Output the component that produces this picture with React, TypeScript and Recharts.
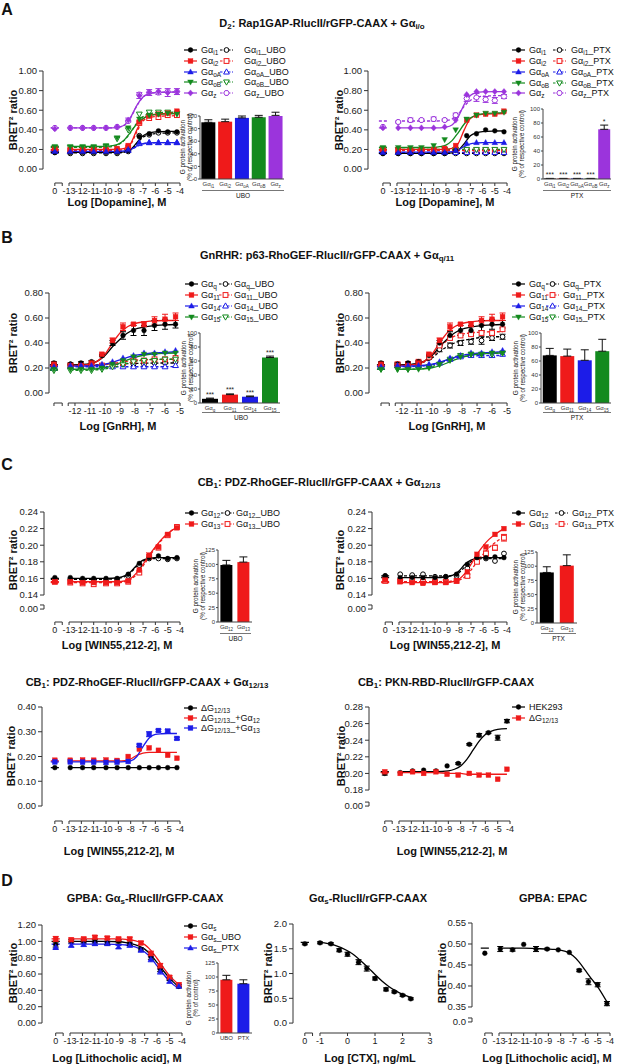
import React from "react";
import {
  ComposedChart,
  Line,
  Scatter,
  XAxis,
  YAxis,
  ReferenceLine,
  ErrorBar,
  BarChart,
  Bar,
  Cell,
  LabelList,
} from "recharts";

const FONT = "'Liberation Sans', Arial, Helvetica, sans-serif";
const K = "#000000";
const R = "#ef1a1a";
const B = "#1c1ce8";
const G = "#138a1e";
const P = "#9b34dc";

// concentrations (log M) of the dilution series
const X_A = [-12.9, -11.9, -11, -10, -9.1, -8.2, -7.3, -6.5, -5.75, -5, -4.25];
const X_B = [-12.3, -11.6, -10.9, -10.2, -9.5, -8.8, -8.1, -7.4, -6.7, -6.0, -5.3];
const X_CTX = [-1, -0.6, -0.3, 0, 0.4, 0.7, 1, 1.4, 1.7, 2, 2.3];
// x where the fitted curves were read
const CX_A = [-13, -12, -11, -10, -9.5, -9, -8.5, -8, -7.5, -7, -6.5, -6, -5, -4.1];
const CX_B = [-12.3, -11.5, -11, -10.5, -10, -9.5, -9, -8.5, -8, -7.5, -7, -6, -5.3];
const CX_C = [-13, -12, -11, -10, -9, -8.5, -8, -7.5, -7, -6.5, -6, -5.5, -5, -4.25];
const CX_CTX = [-1, -0.5, 0, 0.25, 0.5, 0.75, 1, 1.25, 1.5, 1.75, 2, 2.3];

// tick values
const XT_A = [-14.15, -13.55, -13, -12, -11, -10, -9, -8, -7, -6, -5, -4];
const XT_B = [-13.4, -12.85, -12.45, -12, -11, -10, -9, -8, -7, -6, -5];
const XT_CTX = [-1.55, -1.27, -1, 0, 1, 2, 3];
const YT_A = [0, 0.2, 0.4, 0.6, 0.8, 1.0];
const YT_B = [0, 0.2, 0.4, 0.6, 0.8];
const YT_CT = [0.1231, 0.128, 0.14, 0.16, 0.18, 0.2, 0.22, 0.24];
const YT_CBL = [0, 0.1, 0.2, 0.3, 0.4];
const YT_CBR = [0.1607, 0.1655, 0.18, 0.2, 0.22, 0.24, 0.26, 0.28];
const YT_D1 = [0, 0.2, 0.4, 0.6, 0.8, 1.0, 1.2];
const YT_D2 = [0, 0.5, 1.0, 1.5, 2.0];
const YT_D3 = [0.3143, 0.3238, 0.35, 0.4, 0.45, 0.5, 0.55];

// A left (vehicle first)
const AL_I1 = [0.17, 0.17, 0.17, 0.17, 0.17, 0.17, 0.19, 0.33, 0.36, 0.39, 0.38, 0.38];
const AL_I1U = [0.17, 0.16, 0.16, 0.16, 0.16, 0.16, 0.18, 0.34, 0.35, 0.37, 0.37, 0.37];
const AL_I2 = [0.21, 0.2, 0.2, 0.2, 0.2, 0.21, 0.24, 0.48, 0.54, 0.56, 0.57, 0.59];
const AL_I2U = [0.19, 0.19, 0.19, 0.19, 0.19, 0.19, 0.22, 0.47, 0.52, 0.53, 0.55, 0.55];
const AL_OA = [0.18, 0.18, 0.18, 0.18, 0.18, 0.18, 0.2, 0.27, 0.27, 0.27, 0.27, 0.27];
const AL_OAU = [0.18, 0.18, 0.18, 0.18, 0.18, 0.18, 0.19, 0.26, 0.27, 0.27, 0.27, 0.27];
const AL_OB = [0.23, 0.23, 0.23, 0.23, 0.24, 0.32, 0.42, 0.51, 0.55, 0.56, 0.57, 0.56];
const AL_OBU = [0.22, 0.22, 0.22, 0.22, 0.23, 0.31, 0.4, 0.56, 0.58, 0.58, 0.58, 0.57];
const AL_Z = [0.41, 0.42, 0.42, 0.42, 0.42, 0.43, 0.5, 0.75, 0.78, 0.79, 0.78, 0.79];
const AL_Z_E = [0, 0, 0, 0, 0, 0, 0.02, 0.03, 0.03, 0.03, 0.04, 0.03];
const AL_ZU = [0.42, 0.42, 0.42, 0.42, 0.42, 0.43, 0.49, 0.76, 0.78, 0.78, 0.79, 0.79];
const AL_I1_F = [0.17, 0.17, 0.17, 0.17, 0.17, 0.171, 0.176, 0.2, 0.27, 0.34, 0.37, 0.38, 0.385, 0.385];
const AL_I1U_F = [0.165, 0.165, 0.165, 0.165, 0.165, 0.166, 0.172, 0.195, 0.26, 0.325, 0.352, 0.362, 0.368, 0.37];
const AL_I2_F = [0.2, 0.2, 0.2, 0.2, 0.2, 0.202, 0.21, 0.26, 0.4, 0.51, 0.548, 0.56, 0.568, 0.57];
const AL_I2U_F = [0.19, 0.19, 0.19, 0.19, 0.19, 0.192, 0.2, 0.25, 0.38, 0.49, 0.525, 0.535, 0.542, 0.545];
const AL_OA_F = [0.18, 0.18, 0.18, 0.18, 0.18, 0.181, 0.185, 0.2, 0.235, 0.26, 0.267, 0.27, 0.27, 0.27];
const AL_OAU_F = [0.178, 0.178, 0.178, 0.178, 0.178, 0.179, 0.183, 0.197, 0.23, 0.256, 0.265, 0.268, 0.27, 0.27];
const AL_OB_F = [0.23, 0.23, 0.23, 0.232, 0.238, 0.255, 0.3, 0.38, 0.46, 0.515, 0.543, 0.555, 0.563, 0.565];
const AL_OBU_F = [0.222, 0.222, 0.222, 0.224, 0.23, 0.25, 0.295, 0.375, 0.47, 0.535, 0.563, 0.573, 0.578, 0.58];
const AL_Z_F = [0.42, 0.42, 0.42, 0.42, 0.421, 0.427, 0.45, 0.53, 0.65, 0.735, 0.77, 0.78, 0.785, 0.786];
const AL_ZU_F = [0.42, 0.42, 0.42, 0.42, 0.421, 0.426, 0.448, 0.525, 0.645, 0.735, 0.77, 0.78, 0.785, 0.786];

// A right (PTX)
const AR_I1 = [0.16, 0.16, 0.16, 0.16, 0.16, 0.16, 0.19, 0.34, 0.36, 0.4, 0.39, 0.38];
const AR_I1P = [0.16, 0.16, 0.16, 0.16, 0.16, 0.16, 0.16, 0.16, 0.16, 0.16, 0.16, 0.16];
const AR_I2 = [0.2, 0.2, 0.2, 0.2, 0.2, 0.21, 0.24, 0.5, 0.55, 0.56, 0.56, 0.59];
const AR_I2P = [0.2, 0.19, 0.19, 0.19, 0.19, 0.19, 0.19, 0.19, 0.19, 0.19, 0.19, 0.19];
const AR_OA = [0.17, 0.17, 0.17, 0.17, 0.17, 0.17, 0.19, 0.26, 0.27, 0.27, 0.27, 0.27];
const AR_OAP = [0.17, 0.17, 0.17, 0.17, 0.17, 0.17, 0.17, 0.17, 0.17, 0.17, 0.17, 0.17];
const AR_OB = [0.22, 0.22, 0.22, 0.22, 0.24, 0.3, 0.4, 0.51, 0.55, 0.57, 0.57, 0.58];
const AR_OBP = [0.21, 0.2, 0.2, 0.2, 0.2, 0.2, 0.2, 0.2, 0.2, 0.2, 0.2, 0.2];
const AR_Z = [0.42, 0.42, 0.42, 0.42, 0.42, 0.43, 0.5, 0.76, 0.79, 0.79, 0.79, 0.79];
const AR_ZP = [0.43, 0.48, 0.5, 0.5, 0.51, 0.5, 0.55, 0.72, 0.73, 0.71, 0.7, 0.74];
const AR_ZP_E = [0, 0.01, 0.02, 0.01, 0.02, 0.01, 0.02, 0.03, 0.04, 0.03, 0.03, 0.02];
const AR_I1_F = [0.16, 0.16, 0.16, 0.16, 0.16, 0.161, 0.166, 0.19, 0.26, 0.34, 0.37, 0.382, 0.388, 0.39];
const AR_I1P_F = [0.16, 0.16, 0.16, 0.16, 0.16, 0.16, 0.16, 0.16, 0.16, 0.16, 0.16, 0.16, 0.16, 0.16];
const AR_I2_F = [0.2, 0.2, 0.2, 0.2, 0.2, 0.202, 0.21, 0.26, 0.4, 0.515, 0.548, 0.558, 0.564, 0.566];
const AR_I2P_F = [0.19, 0.19, 0.19, 0.19, 0.19, 0.19, 0.19, 0.19, 0.19, 0.19, 0.19, 0.19, 0.19, 0.19];
const AR_OA_F = [0.172, 0.172, 0.172, 0.172, 0.172, 0.173, 0.177, 0.195, 0.23, 0.257, 0.266, 0.269, 0.27, 0.27];
const AR_OAP_F = [0.17, 0.17, 0.17, 0.17, 0.17, 0.17, 0.17, 0.17, 0.17, 0.17, 0.17, 0.17, 0.17, 0.17];
const AR_OB_F = [0.22, 0.22, 0.22, 0.222, 0.228, 0.245, 0.29, 0.37, 0.46, 0.52, 0.55, 0.563, 0.572, 0.575];
const AR_OBP_F = [0.2, 0.2, 0.2, 0.2, 0.2, 0.2, 0.2, 0.2, 0.2, 0.2, 0.2, 0.2, 0.2, 0.2];
const AR_Z_F = [0.42, 0.42, 0.42, 0.42, 0.421, 0.427, 0.45, 0.53, 0.66, 0.75, 0.78, 0.788, 0.79, 0.79];
const AR_ZP_F = [0.49, 0.49, 0.49, 0.49, 0.491, 0.495, 0.51, 0.56, 0.64, 0.7, 0.73, 0.742, 0.748, 0.75];

// B (GnRH)
const B_Q = [0.24, 0.23, 0.24, 0.25, 0.3, 0.4, 0.46, 0.5, 0.5, 0.54, 0.55, 0.55];
const B_Q_E = [0.01, 0.01, 0.01, 0.01, 0.01, 0.02, 0.03, 0.04, 0.04, 0.04, 0.04, 0.03];
const B_11 = [0.23, 0.22, 0.22, 0.24, 0.31, 0.42, 0.53, 0.55, 0.55, 0.58, 0.59, 0.61];
const B_11_E = [0.01, 0.01, 0.01, 0.01, 0.01, 0.02, 0.03, 0.01, 0.02, 0.03, 0.04, 0.03];
const B_14 = [0.21, 0.22, 0.22, 0.22, 0.23, 0.25, 0.28, 0.3, 0.32, 0.32, 0.33, 0.34];
const B_15 = [0.19, 0.19, 0.19, 0.19, 0.2, 0.23, 0.26, 0.29, 0.31, 0.31, 0.32, 0.32];
const B_QU = [0.23, 0.23, 0.22, 0.22, 0.22, 0.23, 0.23, 0.23, 0.23, 0.24, 0.24, 0.25];
const B_11U = [0.22, 0.22, 0.22, 0.22, 0.22, 0.23, 0.24, 0.26, 0.26, 0.27, 0.27, 0.28];
const B_14U = [0.2, 0.21, 0.21, 0.21, 0.21, 0.21, 0.21, 0.21, 0.21, 0.21, 0.21, 0.22];
const B_15U = [0.18, 0.18, 0.18, 0.18, 0.19, 0.21, 0.23, 0.25, 0.26, 0.26, 0.27, 0.27];
const B_QP = [0.23, 0.23, 0.23, 0.24, 0.28, 0.35, 0.38, 0.4, 0.41, 0.42, 0.44, 0.45];
const B_QP_E = [0.01, 0.01, 0.01, 0.01, 0.01, 0.02, 0.02, 0.02, 0.02, 0.03, 0.02, 0.02];
const B_11P = [0.22, 0.23, 0.23, 0.25, 0.29, 0.38, 0.44, 0.46, 0.47, 0.48, 0.48, 0.51];
const B_14P = [0.21, 0.22, 0.22, 0.22, 0.22, 0.24, 0.27, 0.29, 0.3, 0.3, 0.3, 0.31];
const B_15P = [0.19, 0.19, 0.19, 0.2, 0.21, 0.23, 0.27, 0.3, 0.31, 0.31, 0.31, 0.32];
const B_Q_F = [0.225, 0.228, 0.235, 0.255, 0.3, 0.37, 0.43, 0.48, 0.51, 0.525, 0.535, 0.545, 0.548];
const B_11_F = [0.22, 0.223, 0.23, 0.255, 0.31, 0.4, 0.48, 0.53, 0.555, 0.568, 0.575, 0.58, 0.58];
const B_14_F = [0.215, 0.216, 0.218, 0.222, 0.23, 0.245, 0.265, 0.285, 0.3, 0.31, 0.318, 0.325, 0.33];
const B_15_F = [0.19, 0.19, 0.191, 0.194, 0.202, 0.218, 0.24, 0.265, 0.285, 0.3, 0.31, 0.318, 0.32];
const B_QU_F = [0.225, 0.225, 0.225, 0.226, 0.228, 0.23, 0.232, 0.235, 0.237, 0.238, 0.239, 0.24, 0.24];
const B_11U_F = [0.22, 0.22, 0.221, 0.223, 0.228, 0.236, 0.245, 0.255, 0.262, 0.266, 0.268, 0.27, 0.27];
const B_14U_F = [0.21, 0.21, 0.21, 0.21, 0.21, 0.21, 0.21, 0.21, 0.21, 0.21, 0.21, 0.21, 0.212];
const B_15U_F = [0.182, 0.182, 0.183, 0.186, 0.192, 0.204, 0.22, 0.238, 0.252, 0.262, 0.267, 0.27, 0.27];
const B_QP_F = [0.225, 0.228, 0.235, 0.25, 0.28, 0.33, 0.37, 0.4, 0.42, 0.43, 0.44, 0.45, 0.45];
const B_11P_F = [0.22, 0.224, 0.232, 0.25, 0.29, 0.36, 0.42, 0.455, 0.47, 0.48, 0.485, 0.49, 0.49];
const B_14P_F = [0.21, 0.211, 0.213, 0.217, 0.225, 0.24, 0.26, 0.28, 0.29, 0.295, 0.298, 0.3, 0.3];
const B_15P_F = [0.19, 0.19, 0.192, 0.197, 0.21, 0.235, 0.265, 0.29, 0.305, 0.31, 0.315, 0.32, 0.32];

// C top (WIN55,212-2)
const CL_12 = [0.161, 0.161, 0.16, 0.16, 0.16, 0.16, 0.165, 0.178, 0.185, 0.187, 0.184, 0.185];
const CL_12U = [0.159, 0.159, 0.158, 0.158, 0.158, 0.159, 0.163, 0.176, 0.184, 0.184, 0.183, 0.184];
const CL_13 = [0.156, 0.156, 0.155, 0.155, 0.155, 0.155, 0.157, 0.17, 0.188, 0.198, 0.213, 0.221];
const CL_13U = [0.156, 0.155, 0.154, 0.153, 0.154, 0.154, 0.156, 0.167, 0.186, 0.197, 0.212, 0.222];
const CL_12_F = [0.16, 0.16, 0.16, 0.16, 0.161, 0.163, 0.168, 0.176, 0.182, 0.184, 0.185, 0.185, 0.185, 0.185];
const CL_12U_F = [0.159, 0.159, 0.159, 0.159, 0.16, 0.162, 0.167, 0.175, 0.181, 0.183, 0.184, 0.184, 0.184, 0.184];
const CL_13_F = [0.156, 0.156, 0.156, 0.156, 0.156, 0.157, 0.16, 0.167, 0.177, 0.188, 0.198, 0.207, 0.214, 0.222];
const CL_13U_F = [0.155, 0.155, 0.155, 0.155, 0.155, 0.156, 0.159, 0.165, 0.175, 0.186, 0.197, 0.206, 0.214, 0.222];
const CR_12 = [0.163, 0.161, 0.161, 0.161, 0.161, 0.162, 0.165, 0.177, 0.185, 0.185, 0.186, 0.185];
const CR_12P = [0.163, 0.165, 0.164, 0.165, 0.162, 0.162, 0.163, 0.172, 0.184, 0.184, 0.181, 0.19];
const CR_13 = [0.158, 0.156, 0.155, 0.154, 0.155, 0.155, 0.157, 0.168, 0.189, 0.198, 0.213, 0.22];
const CR_13P = [0.157, 0.157, 0.157, 0.156, 0.156, 0.156, 0.157, 0.163, 0.18, 0.19, 0.197, 0.209];
const CR_13P_E = [0, 0, 0, 0, 0, 0, 0, 0.002, 0.002, 0.003, 0.003, 0.004];
const CR_12_F = [0.161, 0.161, 0.161, 0.161, 0.162, 0.164, 0.169, 0.177, 0.182, 0.184, 0.185, 0.185, 0.185, 0.185];
const CR_12P_F = [0.163, 0.163, 0.163, 0.163, 0.163, 0.164, 0.167, 0.174, 0.18, 0.183, 0.184, 0.184, 0.184, 0.184];
const CR_13_F = [0.155, 0.155, 0.155, 0.155, 0.155, 0.156, 0.159, 0.166, 0.177, 0.189, 0.199, 0.207, 0.213, 0.22];
const CR_13P_F = [0.156, 0.156, 0.156, 0.156, 0.156, 0.157, 0.158, 0.162, 0.17, 0.18, 0.189, 0.197, 0.203, 0.21];

// C bottom
const CB_D = [0.155, 0.155, 0.155, 0.155, 0.155, 0.155, 0.155, 0.155, 0.155, 0.155, 0.155, 0.155];
const CB_D12 = [0.185, 0.185, 0.186, 0.185, 0.186, 0.184, 0.2, 0.23, 0.235, 0.225, 0.205, 0.193];
const CB_D13 = [0.178, 0.178, 0.177, 0.177, 0.176, 0.177, 0.18, 0.245, 0.29, 0.305, 0.303, 0.273];
const CB_D13_E = [0, 0, 0, 0, 0, 0, 0, 0.005, 0.01, 0.005, 0.005, 0.005];
const CB_D_F = [0.155, 0.155, 0.155, 0.155, 0.155, 0.155, 0.155, 0.155, 0.155, 0.155, 0.155, 0.155, 0.155, 0.155];
const CB_D12_F = [0.182, 0.182, 0.182, 0.182, 0.182, 0.183, 0.19, 0.205, 0.214, 0.217, 0.217, 0.217, 0.217, 0.217];
const CB_D13_F = [0.178, 0.178, 0.178, 0.178, 0.178, 0.179, 0.182, 0.2, 0.24, 0.275, 0.289, 0.292, 0.293, 0.293];
const CP_HEK = [0.2, 0.201, 0.203, 0.204, 0.203, 0.209, 0.212, 0.235, 0.246, 0.249, 0.243, 0.263];
const CP_HEK_E = [0.002, 0, 0, 0, 0, 0, 0.001, 0.001, 0.002, 0.001, 0.003, 0.002];
const CP_D = [0.202, 0.2, 0.202, 0.2, 0.202, 0.199, 0.198, 0.2, 0.198, 0.198, 0.193, 0.205];
const CP_HEK_F = [0.202, 0.202, 0.202, 0.202, 0.203, 0.205, 0.209, 0.217, 0.228, 0.239, 0.247, 0.251, 0.253, 0.254];
const CP_D_F = [0.201, 0.201, 0.201, 0.201, 0.2, 0.2, 0.2, 0.199, 0.199, 0.199, 0.199, 0.199, 0.199, 0.199];

// D
const D1_S = [0.96, 1.0, 1.0, 1.0, 0.98, 1.0, 0.97, 0.9, 0.81, 0.66, 0.54, 0.45];
const D1_U = [1.03, 1.02, 1.03, 1.05, 1.04, 1.03, 1.03, 0.98, 0.85, 0.7, 0.56, 0.47];
const D1_P = [0.93, 0.95, 0.96, 0.97, 0.97, 0.93, 0.95, 0.89, 0.78, 0.63, 0.51, 0.45];
const D1_E = [0.03, 0.02, 0.02, 0.02, 0.02, 0.02, 0.02, 0.02, 0.03, 0.03, 0.02, 0.02];
const D1_S_F = [1.0, 1.0, 1.0, 1.0, 0.995, 0.985, 0.97, 0.945, 0.905, 0.835, 0.74, 0.64, 0.55, 0.44];
const D1_U_F = [1.03, 1.03, 1.03, 1.03, 1.03, 1.025, 1.015, 0.995, 0.96, 0.89, 0.79, 0.68, 0.58, 0.47];
const D1_P_F = [0.965, 0.965, 0.965, 0.965, 0.96, 0.955, 0.94, 0.915, 0.87, 0.8, 0.7, 0.6, 0.51, 0.42];
const D2_Y = [1.6, 1.62, 1.6, 1.47, 1.39, 1.23, 1.1, 0.9, 0.68, 0.63, 0.56, 0.49];
const D2_E = [0.02, 0.02, 0.02, 0.03, 0.04, 0.05, 0.05, 0.03, 0.03, 0.02, 0.02, 0.02];
const D2_F = [1.63, 1.58, 1.46, 1.37, 1.25, 1.12, 0.98, 0.85, 0.74, 0.65, 0.58, 0.52];
const D3_Y = [0.478, 0.488, 0.486, 0.499, 0.488, 0.488, 0.486, 0.48, 0.437, 0.41, 0.403, 0.358];
const D3_E = [0, 0.006, 0.003, 0, 0.006, 0.002, 0, 0, 0.003, 0.007, 0.005, 0.005];
const D3_F = [0.49, 0.49, 0.49, 0.489, 0.488, 0.487, 0.485, 0.481, 0.472, 0.457, 0.437, 0.417, 0.398, 0.362];

// bar insets
const BAR_A_NAMES = ["Gα|i1", "Gα|i2", "Gα|oA", "Gα|oB", "Gα|z"];
const BAR_A_UBO = [90, 91, 97, 98, 101];
const BAR_A_UBO_E = [4, 4, 3, 3, 5];
const BAR_A_PTX = [0.8, 0.8, 0.8, 0.8, 71];
const BAR_A_PTX_E = [0, 0, 0, 0, 6];
const BAR_A_PTX_ST = ["***", "***", "***", "***", "*"];
const BAR_B_NAMES = ["Gα|q", "Gα|11", "Gα|14", "Gα|15"];
const BAR_B_UBO = [6, 12, 9, 65];
const BAR_B_UBO_E = [1, 1, 1, 2];
const BAR_B_UBO_ST = ["***", "***", "***", "***"];
const BAR_B_PTX = [68, 67, 61, 74];
const BAR_B_PTX_E = [10, 10, 15, 17];
const BAR_C_NAMES = ["Gα|12", "Gα|13"];
const BAR_C_UBO = [99, 104];
const BAR_C_UBO_E = [8, 9];
const BAR_C_PTX = [89, 101];
const BAR_C_PTX_E = [10, 19];
const BAR_D_NAMES = ["UBO", "PTX"];
const BAR_D = [95, 88];
const BAR_D_E = [8, 7];
const YT_BAR100 = [0, 20, 40, 60, 80, 100];
const YT_BAR125 = [0, 25, 50, 75, 100, 125];

type Mk = "circle" | "square" | "tri" | "tridown" | "diamond" | "hex";
type Ser = {
  lab: React.ReactNode;
  c: string;
  m: Mk;
  open?: boolean;
  dash?: boolean;
  y: number[];
  e?: number[];
  fit: number[];
};

const Sub = ({ children }: { children: React.ReactNode }) => (
  <span style={{ fontSize: "0.72em", verticalAlign: "-0.28em", lineHeight: 0 }}>{children}</span>
);
const ga = (s: string, t = "") => (
  <>
    Gα<Sub>{s}</Sub>
    {t}
  </>
);
const dg = (t: React.ReactNode = null) => (
  <>
    ΔG<Sub>12/13</Sub>
    {t}
  </>
);

function Marker({ cx, cy, s }: { cx: number; cy: number; s: Ser }) {
  if (cx == null || cy == null) return null;
  const r = 2.4;
  const f = s.open ? "#fff" : s.c;
  const sw = s.open ? 1 : 0.4;
  const common = { fill: f, stroke: s.c, strokeWidth: sw };
  switch (s.m) {
    case "square":
      return <rect x={cx - r} y={cy - r} width={2 * r} height={2 * r} {...common} />;
    case "tri":
      return <polygon points={`${cx},${cy - r * 1.3} ${cx + r * 1.2},${cy + r * 0.85} ${cx - r * 1.2},${cy + r * 0.85}`} {...common} />;
    case "tridown":
      return <polygon points={`${cx},${cy + r * 1.3} ${cx + r * 1.2},${cy - r * 0.85} ${cx - r * 1.2},${cy - r * 0.85}`} {...common} />;
    case "diamond":
      return <polygon points={`${cx},${cy - r * 1.3} ${cx + r * 1.1},${cy} ${cx},${cy + r * 1.3} ${cx - r * 1.1},${cy}`} {...common} />;
    case "hex": {
      const pts = [0, 1, 2, 3, 4, 5]
        .map((k) => {
          const a = (Math.PI / 3) * k;
          return `${cx + r * 1.15 * Math.cos(a)},${cy + r * 1.15 * Math.sin(a)}`;
        })
        .join(" ");
      return <polygon points={pts} {...common} />;
    }
    default:
      return <circle cx={cx} cy={cy} r={r} {...common} />;
  }
}

type DoseProps = {
  px: number;
  py: number;
  w: number;
  h: number;
  xd: [number, number];
  yd: [number, number];
  xv: number;
  dw: number;
  xs: number[];
  cx: number[];
  xTicks: number[];
  yTicks: number[];
  dec: number;
  ySpecial?: Record<string, string>;
  noZero?: boolean;
  xSegs: [number, number][];
  ySegs: [number, number][];
  series: Ser[];
};

const YW = 34;
const MT = 6;
const MR = 6;
const XH = 22;

function Dose(p: DoseProps) {
  const fmtX = (v: number) => (v === p.xv ? (p.noZero ? "" : "0") : Number.isInteger(v) ? String(v) : "");
  const fmtY = (v: number) => {
    const k = String(v);
    if (p.ySpecial && p.ySpecial[k] !== undefined) return p.ySpecial[k];
    return v.toFixed(p.dec);
  };
  const pts = (s: Ser) => [p.xv, ...p.xs].map((x, i) => ({ x, y: s.y[i], e: s.e ? s.e[i] : 0 }));
  const fit = (s: Ser) => [
    { x: p.xv - p.dw, y: s.fit[0] },
    { x: p.xv + p.dw, y: s.fit[0] },
    { x: (p.xv + p.cx[0]) / 2, y: null },
    ...p.cx.map((x, i) => ({ x, y: s.fit[i] })),
  ];
  const tickStyle = { fontSize: 9, fill: "#1a1a1a", fontFamily: FONT };
  return (
    <div style={{ position: "absolute", left: p.px - YW, top: p.py - MT }}>
      <ComposedChart
        width={YW + p.w + MR}
        height={MT + p.h + XH}
        margin={{ top: MT, right: MR, bottom: 0, left: 0 }}
      >
        <XAxis
          type="number"
          dataKey="x"
          domain={p.xd}
          allowDataOverflow
          ticks={p.xTicks}
          interval={0}
          tickFormatter={fmtX}
          axisLine={false}
          tickSize={3}
          tickLine={{ stroke: "#333" }}
          tick={tickStyle}
          height={XH}
        />
        <YAxis
          type="number"
          dataKey="y"
          domain={p.yd}
          allowDataOverflow
          ticks={p.yTicks}
          interval={0}
          tickFormatter={fmtY}
          axisLine={false}
          tickSize={4}
          tickLine={{ stroke: "#333" }}
          tick={{ ...tickStyle, fontSize: 9.5 }}
          width={YW}
        />
        {p.xSegs.map(([a, b], i) => (
          <ReferenceLine
            key={"xs" + i}
            segment={[
              { x: a, y: p.yd[0] },
              { x: b, y: p.yd[0] },
            ]}
            stroke="#333"
            ifOverflow="visible"
          />
        ))}
        {p.ySegs.map(([a, b], i) => (
          <ReferenceLine
            key={"ys" + i}
            segment={[
              { x: p.xd[0], y: a },
              { x: p.xd[0], y: b },
            ]}
            stroke="#333"
            ifOverflow="visible"
          />
        ))}
        {p.series.map((s, i) => (
          <Line
            key={"l" + i}
            data={fit(s)}
            dataKey="y"
            type="monotone"
            stroke={s.c}
            strokeWidth={1.3}
            strokeDasharray={s.dash ? "3 2" : undefined}
            dot={false}
            activeDot={false}
            connectNulls={false}
            isAnimationActive={false}
          />
        ))}
        {p.series.map((s, i) => (
          <Scatter
            key={"s" + i}
            data={pts(s)}
            shape={(q: any) => <Marker cx={q.cx} cy={q.cy} s={s} />}
            isAnimationActive={false}
          >
            {s.e ? <ErrorBar dataKey="e" direction="y" width={3} stroke={s.c} strokeWidth={1} /> : null}
          </Scatter>
        ))}
      </ComposedChart>
    </div>
  );
}

function Leg({ sx, tx, ry, cols }: { sx: number[]; tx: number[]; ry: number[]; cols: Ser[][] }) {
  return (
    <>
      {cols.map((col, ci) =>
        col.map((s, ri) => (
          <React.Fragment key={ci + "-" + ri}>
            <svg style={{ position: "absolute", left: sx[ci], top: ry[ri] - 4 }} width={13} height={8}>
              <line
                x1={0}
                y1={4}
                x2={13}
                y2={4}
                stroke={s.c}
                strokeWidth={1.2}
                strokeDasharray={s.dash ? "2.5 1.5" : undefined}
              />
              <Marker cx={6.5} cy={4} s={s} />
            </svg>
            <div
              style={{
                position: "absolute",
                left: tx[ci],
                top: ry[ri] - 6,
                height: 12,
                lineHeight: "12px",
                fontSize: 9,
                whiteSpace: "nowrap",
                color: "#111",
              }}
            >
              {s.lab}
            </div>
          </React.Fragment>
        ))
      )}
    </>
  );
}

function Txt({
  x,
  y,
  size = 11,
  bold = false,
  rot = false,
  children,
}: {
  x: number;
  y: number;
  size?: number;
  bold?: boolean;
  rot?: boolean;
  children: React.ReactNode;
}) {
  return (
    <div
      style={{
        position: "absolute",
        left: x,
        top: y,
        transform: `translate(-50%,-50%)${rot ? " rotate(-90deg)" : ""}`,
        fontSize: size,
        fontWeight: bold ? 700 : 400,
        whiteSpace: "nowrap",
        lineHeight: 1.15,
        textAlign: "center",
        color: "#111",
      }}
    >
      {children}
    </div>
  );
}

const BarTick = (q: any) => {
  const [a, b] = String(q.payload.value).split("|");
  return (
    <text x={q.x} y={q.y + 7} textAnchor="middle" fontSize={6} fontFamily={FONT} fill="#333">
      {a}
      {b ? (
        <tspan fontSize={4.5} dy={1.5}>
          {b}
        </tspan>
      ) : null}
    </text>
  );
};

type InsetProps = {
  ax: number;
  top: number;
  bottom: number;
  w: number;
  max: number;
  ticks: number[];
  names: string[];
  vals: number[];
  errs: number[];
  cols: string[];
  stars?: string[];
  gap: string;
};

function Inset(p: InsetProps) {
  const IYW = 16;
  const IMT = 12;
  const IXH = 10;
  const h = p.bottom - p.top;
  const pxPer = h / p.max;
  const data = p.names.map((n, i) => ({
    n,
    v: p.vals[i],
    e: [0, p.errs[i]],
    s: p.stars ? p.stars[i] : "",
  }));
  const star = (q: any) => {
    if (!q.value) return null;
    const vb = q.viewBox || q;
    const i = q.index ?? 0;
    const x = vb.x + vb.width / 2;
    const y = vb.y - (p.errs[i] || 0) * pxPer - 1.5;
    return (
      <text x={x} y={y} textAnchor="middle" fontSize={7} fontFamily={FONT} fill="#222">
        {q.value}
      </text>
    );
  };
  return (
    <div style={{ position: "absolute", left: p.ax - IYW, top: p.top - IMT }}>
      <BarChart
        width={IYW + p.w}
        height={IMT + h + IXH}
        data={data}
        margin={{ top: IMT, right: 0, bottom: 0, left: 0 }}
        barCategoryGap={p.gap}
      >
        <XAxis
          dataKey="n"
          tick={BarTick}
          tickLine={false}
          tickSize={0}
          tickMargin={0}
          interval={0}
          height={IXH}
          axisLine={{ stroke: "#444" }}
        />
        <YAxis
          type="number"
          domain={[0, p.max]}
          allowDataOverflow
          ticks={p.ticks}
          interval={0}
          width={IYW}
          tickSize={2}
          tickMargin={1}
          axisLine={{ stroke: "#444" }}
          tickLine={{ stroke: "#444" }}
          tick={{ fontSize: 6, fill: "#333", fontFamily: FONT }}
        />
        <Bar dataKey="v" isAnimationActive={false}>
          {data.map((d, i) => (
            <Cell key={i} fill={p.cols[i]} />
          ))}
          <ErrorBar dataKey="e" width={4} stroke="#111" strokeWidth={1} direction="y" />
          {p.stars ? <LabelList dataKey="s" content={star} /> : null}
        </Bar>
      </BarChart>
    </div>
  );
}

function Group({ x1, x2, y, label }: { x1: number; x2: number; y: number; label: string }) {
  return (
    <>
      <div style={{ position: "absolute", left: x1, top: y, width: x2 - x1, borderTop: "1px solid #777" }} />
      <Txt x={(x1 + x2) / 2} y={y + 6} size={6.5}>
        {label}
      </Txt>
    </>
  );
}

const BarYLab = ({ x, y, two = "(% of respective control)" }: { x: number; y: number; two?: string }) => (
  <Txt x={x} y={y} size={6.3} rot>
    <div>G protein activation</div>
    <div>{two}</div>
  </Txt>
);

// series definitions
const SER_AL: Ser[] = [
  { lab: ga("i1"), c: K, m: "circle", y: AL_I1, fit: AL_I1_F },
  { lab: ga("i2"), c: R, m: "square", y: AL_I2, fit: AL_I2_F },
  { lab: ga("oA"), c: B, m: "tri", y: AL_OA, fit: AL_OA_F },
  { lab: ga("oB"), c: G, m: "tridown", y: AL_OB, fit: AL_OB_F },
  { lab: ga("z"), c: P, m: "diamond", y: AL_Z, e: AL_Z_E, fit: AL_Z_F },
];
const SER_ALU: Ser[] = [
  { lab: ga("i1", "_UBO"), c: K, m: "circle", open: true, dash: true, y: AL_I1U, fit: AL_I1U_F },
  { lab: ga("i2", "_UBO"), c: R, m: "square", open: true, dash: true, y: AL_I2U, fit: AL_I2U_F },
  { lab: ga("oA", "_UBO"), c: B, m: "tri", open: true, dash: true, y: AL_OAU, fit: AL_OAU_F },
  { lab: ga("oB", "_UBO"), c: G, m: "tridown", open: true, dash: true, y: AL_OBU, fit: AL_OBU_F },
  { lab: ga("z", "_UBO"), c: P, m: "hex", open: true, dash: true, y: AL_ZU, fit: AL_ZU_F },
];
const SER_AR: Ser[] = [
  { lab: ga("i1"), c: K, m: "circle", y: AR_I1, fit: AR_I1_F },
  { lab: ga("i2"), c: R, m: "square", y: AR_I2, fit: AR_I2_F },
  { lab: ga("oA"), c: B, m: "tri", y: AR_OA, fit: AR_OA_F },
  { lab: ga("oB"), c: G, m: "tridown", y: AR_OB, fit: AR_OB_F },
  { lab: ga("z"), c: P, m: "diamond", y: AR_Z, fit: AR_Z_F },
];
const SER_ARP: Ser[] = [
  { lab: ga("i1", "_PTX"), c: K, m: "circle", open: true, dash: true, y: AR_I1P, fit: AR_I1P_F },
  { lab: ga("i2", "_PTX"), c: R, m: "square", open: true, dash: true, y: AR_I2P, fit: AR_I2P_F },
  { lab: ga("oA", "_PTX"), c: B, m: "tri", open: true, dash: true, y: AR_OAP, fit: AR_OAP_F },
  { lab: ga("oB", "_PTX"), c: G, m: "tridown", open: true, dash: true, y: AR_OBP, fit: AR_OBP_F },
  { lab: ga("z", "_PTX"), c: P, m: "hex", open: true, dash: true, y: AR_ZP, e: AR_ZP_E, fit: AR_ZP_F },
];
const SER_B: Ser[] = [
  { lab: ga("q"), c: K, m: "circle", y: B_Q, e: B_Q_E, fit: B_Q_F },
  { lab: ga("11"), c: R, m: "square", y: B_11, e: B_11_E, fit: B_11_F },
  { lab: ga("14"), c: B, m: "tri", y: B_14, fit: B_14_F },
  { lab: ga("15"), c: G, m: "tridown", y: B_15, fit: B_15_F },
];
const SER_BU: Ser[] = [
  { lab: ga("q", "_UBO"), c: K, m: "circle", open: true, dash: true, y: B_QU, fit: B_QU_F },
  { lab: ga("11", "_UBO"), c: R, m: "square", open: true, dash: true, y: B_11U, fit: B_11U_F },
  { lab: ga("14", "_UBO"), c: B, m: "tri", open: true, dash: true, y: B_14U, fit: B_14U_F },
  { lab: ga("15", "_UBO"), c: G, m: "tridown", open: true, dash: true, y: B_15U, fit: B_15U_F },
];
const SER_BP: Ser[] = [
  { lab: ga("q", "_PTX"), c: K, m: "circle", open: true, dash: true, y: B_QP, e: B_QP_E, fit: B_QP_F },
  { lab: ga("11", "_PTX"), c: R, m: "square", open: true, dash: true, y: B_11P, fit: B_11P_F },
  { lab: ga("14", "_PTX"), c: B, m: "tri", open: true, dash: true, y: B_14P, fit: B_14P_F },
  { lab: ga("15", "_PTX"), c: G, m: "tridown", open: true, dash: true, y: B_15P, fit: B_15P_F },
];
const SER_CL: Ser[] = [
  { lab: ga("12"), c: K, m: "circle", y: CL_12, fit: CL_12_F },
  { lab: ga("13"), c: R, m: "square", y: CL_13, fit: CL_13_F },
];
const SER_CLU: Ser[] = [
  { lab: ga("12", "_UBO"), c: K, m: "circle", open: true, dash: true, y: CL_12U, fit: CL_12U_F },
  { lab: ga("13", "_UBO"), c: R, m: "square", open: true, dash: true, y: CL_13U, fit: CL_13U_F },
];
const SER_CR: Ser[] = [
  { lab: ga("12"), c: K, m: "circle", y: CR_12, fit: CR_12_F },
  { lab: ga("13"), c: R, m: "square", y: CR_13, fit: CR_13_F },
];
const SER_CRP: Ser[] = [
  { lab: ga("12", "_PTX"), c: K, m: "circle", open: true, dash: true, y: CR_12P, fit: CR_12P_F },
  { lab: ga("13", "_PTX"), c: R, m: "square", open: true, dash: true, y: CR_13P, e: CR_13P_E, fit: CR_13P_F },
];
const SER_CB: Ser[] = [
  { lab: dg(), c: K, m: "circle", y: CB_D, fit: CB_D_F },
  { lab: dg(<>_+{ga("12")}</>), c: R, m: "square", y: CB_D12, fit: CB_D12_F },
  { lab: dg(<>_+{ga("13")}</>), c: B, m: "square", y: CB_D13, e: CB_D13_E, fit: CB_D13_F },
];
const SER_CP: Ser[] = [
  { lab: "HEK293", c: K, m: "circle", y: CP_HEK, e: CP_HEK_E, fit: CP_HEK_F },
  { lab: dg(), c: R, m: "square", y: CP_D, fit: CP_D_F },
];
const SER_D1: Ser[] = [
  { lab: ga("s"), c: K, m: "circle", y: D1_S, e: D1_E, fit: D1_S_F },
  { lab: ga("s", "_UBO"), c: R, m: "square", y: D1_U, e: D1_E, fit: D1_U_F },
  { lab: ga("s", "_PTX"), c: B, m: "tri", y: D1_P, e: D1_E, fit: D1_P_F },
];
const SER_D2: Ser[] = [{ lab: "CTX", c: K, m: "circle", y: D2_Y, e: D2_E, fit: D2_F }];
const SER_D3: Ser[] = [{ lab: "EPAC", c: K, m: "circle", y: D3_Y, e: D3_E, fit: D3_F }];

const SEG_A: [number, number][] = [
  [-14.15, -13.55],
  [-13, -4],
];
const SEG_B: [number, number][] = [
  [-13.4, -12.85],
  [-12.45, -5],
];
const BRET = "BRET² ratio";

export default function App() {
  return (
    <div
      style={{
        position: "absolute",
        left: 0,
        top: 0,
        width: 617,
        height: 1064,
        background: "#fff",
        fontFamily: FONT,
        overflow: "hidden",
      }}
    >
      {/* ---------- A ---------- */}
      <Txt x={7} y={10} size={16} bold>A</Txt>
      <Txt x={322} y={23} bold>
        D<Sub>2</Sub>: Rap1GAP-RlucII/rGFP-CAAX + Gα<Sub>i/o</Sub>
      </Txt>
      <Dose
        px={43} py={71} w={139} h={112}
        xd={[-15.11, -3.84]} yd={[-0.142, 1.0]}
        xv={-14.15} dw={0.33} xs={X_A} cx={CX_A}
        xTicks={XT_A} yTicks={YT_A} dec={2}
        xSegs={SEG_A} ySegs={[[0, 1]]}
        series={[...SER_ALU, ...SER_AL]}
      />
      <Leg sx={[184, 220]} tx={[201, 244]} ry={[50, 61, 72, 82, 93]} cols={[SER_AL, SER_ALU]} />
      <Txt x={13} y={120} bold rot>{BRET}</Txt>
      <Txt x={117} y={202} bold>Log [Dopamine], M</Txt>
      <Inset ax={200} top={116} bottom={179} w={84} max={100} ticks={YT_BAR100} names={BAR_A_NAMES}
        vals={BAR_A_UBO} errs={BAR_A_UBO_E} cols={[K, R, B, G, P]} gap="8%" />
      <BarYLab x={186} y={147} />
      <Group x1={202} x2={284} y={190} label="UBO" />

      <Dose
        px={368} py={71} w={141} h={112}
        xd={[-15.37, -3.84]} yd={[-0.142, 1.0]}
        xv={-14.15} dw={0.33} xs={X_A} cx={CX_A}
        xTicks={XT_A} yTicks={YT_A} dec={2}
        xSegs={SEG_A} ySegs={[[0, 1]]}
        series={[...SER_ARP, ...SER_AR]}
      />
      <Leg sx={[512, 553]} tx={[529, 571]} ry={[50, 61, 72, 83, 93]} cols={[SER_AR, SER_ARP]} />
      <Txt x={339} y={120} bold rot>{BRET}</Txt>
      <Txt x={445} y={202} bold>Log [Dopamine], M</Txt>
      <Inset ax={543} top={109} bottom={179} w={68} max={100} ticks={YT_BAR100} names={BAR_A_NAMES}
        vals={BAR_A_PTX} errs={BAR_A_PTX_E} stars={BAR_A_PTX_ST} cols={[K, R, B, G, P]} gap="6%" />
      <BarYLab x={518} y={144} />
      <Group x1={543} x2={611} y={190} label="PTX" />

      {/* ---------- B ---------- */}
      <Txt x={7} y={238} size={16} bold>B</Txt>
      <Txt x={327} y={255} bold>
        GnRHR: p63-RhoGEF-RlucII/rGFP-CAAX + Gα<Sub>q/11</Sub>
      </Txt>
      <Dose
        px={49} py={293} w={133} h={110}
        xd={[-13.73, -4.87]} yd={[-0.08, 0.8]}
        xv={-13.4} dw={0.27} xs={X_B} cx={CX_B} noZero
        xTicks={XT_B} yTicks={YT_B} dec={2}
        xSegs={SEG_B} ySegs={[[0, 0.8]]}
        series={[...SER_BU, ...SER_B]}
      />
      <Leg sx={[185, 219]} tx={[201, 234]} ry={[284, 295, 306, 317]} cols={[SER_B, SER_BU]} />
      <Txt x={13} y={343} bold rot>{BRET}</Txt>
      <Txt x={118} y={426} bold>Log [GnRH], M</Txt>
      <Inset ax={200} top={333} bottom={403} w={80} max={100} ticks={YT_BAR100} names={BAR_B_NAMES}
        vals={BAR_B_UBO} errs={BAR_B_UBO_E} stars={BAR_B_UBO_ST} cols={[K, R, B, G]} gap="10%" />
      <BarYLab x={187} y={368} />
      <Group x1={202} x2={280} y={412} label="UBO" />

      <Dose
        px={369} py={293} w={140} h={110}
        xd={[-14.2, -4.87]} yd={[-0.08, 0.8]}
        xv={-13.4} dw={0.27} xs={X_B} cx={CX_B} noZero
        xTicks={XT_B} yTicks={YT_B} dec={2}
        xSegs={SEG_B} ySegs={[[0, 0.8]]}
        series={[...SER_BP, ...SER_B]}
      />
      <Leg sx={[512, 546]} tx={[529, 563]} ry={[284, 295, 306, 317]} cols={[SER_B, SER_BP]} />
      <Txt x={340} y={343} bold rot>{BRET}</Txt>
      <Txt x={447} y={426} bold>Log [GnRH], M</Txt>
      <Inset ax={541} top={333} bottom={403} w={70} max={100} ticks={YT_BAR100} names={BAR_B_NAMES}
        vals={BAR_B_PTX} errs={BAR_B_PTX_E} cols={[K, R, B, G]} gap="10%" />
      <BarYLab x={519} y={368} />
      <Group x1={543} x2={611} y={412} label="PTX" />

      {/* ---------- C ---------- */}
      <Txt x={7} y={465} size={16} bold>C</Txt>
      <Txt x={319} y={482} bold>
        CB<Sub>1</Sub>: PDZ-RhoGEF-RlucII/rGFP-CAAX + Gα<Sub>12/13</Sub>
      </Txt>
      <Dose
        px={44} py={512} w={138} h={110}
        xd={[-15.03, -3.84]} yd={[0.1075, 0.24]}
        xv={-14.15} dw={0.33} xs={X_A} cx={CX_C}
        xTicks={XT_A} yTicks={YT_CT} dec={2} ySpecial={{ "0.1231": "0.00", "0.128": "" }}
        xSegs={SEG_A} ySegs={[[0.14, 0.24], [0.1231, 0.128]]}
        series={[...SER_CLU, ...SER_CL]}
      />
      <Leg sx={[185, 221]} tx={[201, 236]} ry={[513, 524]} cols={[SER_CL, SER_CLU]} />
      <Txt x={13} y={560} bold rot>{BRET}</Txt>
      <Txt x={117} y={645} bold>Log [WIN55,212-2], M</Txt>
      <Inset ax={218} top={550} bottom={622} w={34} max={125} ticks={YT_BAR125} names={BAR_C_NAMES}
        vals={BAR_C_UBO} errs={BAR_C_UBO_E} cols={[K, R]} gap="14%" />
      <BarYLab x={199} y={586} />
      <Group x1={220} x2={251} y={633} label="UBO" />

      <Dose
        px={372} py={512} w={137} h={110}
        xd={[-15.25, -3.83]} yd={[0.1075, 0.24]}
        xv={-14.15} dw={0.33} xs={X_A} cx={CX_C}
        xTicks={XT_A} yTicks={YT_CT} dec={2} ySpecial={{ "0.1231": "0.00", "0.128": "" }}
        xSegs={SEG_A} ySegs={[[0.14, 0.24], [0.1231, 0.128]]}
        series={[...SER_CRP, ...SER_CR]}
      />
      <Leg sx={[512, 555]} tx={[529, 572]} ry={[513, 524]} cols={[SER_CR, SER_CRP]} />
      <Txt x={340} y={560} bold rot>{BRET}</Txt>
      <Txt x={445} y={645} bold>Log [WIN55,212-2], M</Txt>
      <Inset ax={537} top={552} bottom={623} w={40} max={125} ticks={YT_BAR125} names={BAR_C_NAMES}
        vals={BAR_C_PTX} errs={BAR_C_PTX_E} cols={[K, R]} gap="14%" />
      <BarYLab x={519} y={587} />
      <Group x1={541} x2={576} y={633} label="PTX" />

      <Txt x={147} y={682} bold>
        CB<Sub>1</Sub>: PDZ-RhoGEF-RlucII/rGFP-CAAX + Gα<Sub>12/13</Sub>
      </Txt>
      <Dose
        px={42} py={707} w={140} h={114}
        xd={[-15.19, -3.84]} yd={[-0.0606, 0.4]}
        xv={-14.15} dw={0.33} xs={X_A} cx={CX_C}
        xTicks={XT_A} yTicks={YT_CBL} dec={2}
        xSegs={SEG_A} ySegs={[[0, 0.4]]}
        series={SER_CB}
      />
      <Leg sx={[184]} tx={[201]} ry={[708, 718, 728]} cols={[SER_CB]} />
      <Txt x={11} y={756} bold rot>{BRET}</Txt>
      <Txt x={119} y={851} bold>Log [WIN55,212-2], M</Txt>

      <Txt x={446} y={682} bold>
        CB<Sub>1</Sub>: PKN-RBD-RlucII/rGFP-CAAX
      </Txt>
      <Dose
        px={369} py={707} w={143} h={114}
        xd={[-15.43, -3.84]} yd={[0.1427, 0.28]}
        xv={-14.15} dw={0.33} xs={X_A} cx={CX_C}
        xTicks={XT_A} yTicks={YT_CBR} dec={2} ySpecial={{ "0.1607": "0.00", "0.1655": "" }}
        xSegs={SEG_A} ySegs={[[0.18, 0.28], [0.1607, 0.1655]]}
        series={SER_CP}
      />
      <Leg sx={[512]} tx={[529]} ry={[707, 718]} cols={[SER_CP]} />
      <Txt x={341} y={756} bold rot>{BRET}</Txt>
      <Txt x={452} y={851} bold>Log [WIN55,212-2], M</Txt>

      {/* ---------- D ---------- */}
      <Txt x={7} y={881} size={16} bold>D</Txt>
      <Txt x={145} y={898} bold>
        GPBA: Gα<Sub>s</Sub>-RlucII/rGFP-CAAX
      </Txt>
      <Dose
        px={42} py={925} w={142} h={108}
        xd={[-15.25, -3.84]} yd={[-0.122, 1.2]}
        xv={-14.15} dw={0.33} xs={X_A} cx={CX_C}
        xTicks={XT_A} yTicks={YT_D1} dec={2}
        xSegs={SEG_A} ySegs={[[0, 1.2]]}
        series={SER_D1}
      />
      <Leg sx={[184]} tx={[201]} ry={[926, 937, 948]} cols={[SER_D1]} />
      <Txt x={13} y={973} bold rot>{BRET}</Txt>
      <Txt x={117} y={1058} bold>Log [Lithocholic acid], M</Txt>
      <Inset ax={218} top={963} bottom={1033} w={34} max={125} ticks={YT_BAR125} names={BAR_D_NAMES}
        vals={BAR_D} errs={BAR_D_E} cols={[R, B]} gap="14%" />
      <BarYLab x={192} y={998} two="(% of control)" />

      <Txt x={368} y={898} bold>
        Gα<Sub>s</Sub>-RlucII/rGFP-CAAX
      </Txt>
      <Dose
        px={293} py={924} w={139} h={109}
        xd={[-1.98, 3.07]} yd={[-0.2, 2.0]}
        xv={-1.55} dw={0.15} xs={X_CTX} cx={CX_CTX}
        xTicks={XT_CTX} yTicks={YT_D2} dec={1}
        xSegs={[[-1.55, -1.27], [-1, 3]]} ySegs={[[0, 2]]}
        series={SER_D2}
      />
      <Txt x={268} y={973} bold rot>{BRET}</Txt>
      <Txt x={370} y={1058} bold>Log [CTX], ng/mL</Txt>

      <Txt x={553} y={898} bold>GPBA: EPAC</Txt>
      <Dose
        px={472} py={923} w={140} h={110}
        xd={[-15.19, -3.84]} yd={[0.288, 0.55]}
        xv={-14.15} dw={0.33} xs={X_A} cx={CX_C}
        xTicks={XT_A} yTicks={YT_D3} dec={2} ySpecial={{ "0.3143": "0.0", "0.3238": "" }}
        xSegs={SEG_A} ySegs={[[0.35, 0.55], [0.3143, 0.3238]]}
        series={SER_D3}
      />
      <Txt x={442} y={973} bold rot>{BRET}</Txt>
      <Txt x={547} y={1058} bold>Log [Lithocholic acid], M</Txt>
    </div>
  );
}
